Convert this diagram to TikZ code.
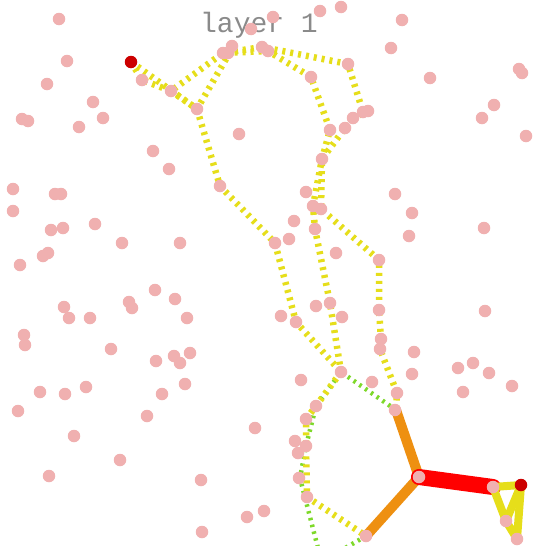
\documentclass[tikz,border=0pt]{standalone}
\usepackage{fontspec}
\newfontfamily\monofont{Liberation Mono}
\definecolor{dotpink}{HTML}{F0B0B0}
\definecolor{dotred}{HTML}{CC0000}
\definecolor{pyellow}{HTML}{E6DE1A}
\definecolor{pgreen}{HTML}{7ED92A}
\definecolor{porange}{HTML}{EE9011}
\definecolor{pred}{HTML}{FF0000}
\definecolor{titlegray}{HTML}{8A8A8A}
\tikzset{
  dot/.style={circle,fill=dotpink,inner sep=0pt,minimum size=12.5pt},
  reddot/.style={circle,fill=dotred,inner sep=0pt,minimum size=12.5pt},
  ydash/.style={draw=pyellow,line width=6.5pt,dash pattern=on 3pt off 5pt,line cap=butt},
  gdash/.style={draw=pgreen,line width=4.5pt,dash pattern=on 2.5pt off 4.5pt,line cap=butt},
  orangeline/.style={draw=porange,line width=10pt,line cap=round},
  redline/.style={draw=pred,line width=16pt,line cap=round},
  yline/.style={draw=pyellow,line width=8pt,line cap=round,line join=round},
  title/.style={text=titlegray,font=\monofont\fontsize{28}{30}\selectfont,inner sep=0pt,anchor=base}
}
\begin{document}
\begin{tikzpicture}[x=1pt,y=-1pt]
\useasboundingbox (0,0) rectangle (537,546);
\fill[white] (0,0) rectangle (537,546);
\node[title] (ttl) at (259,32) {layer 1};
% path coordinates
\coordinate (R1) at (131,62);
\coordinate (A) at (142,80);
\coordinate (B) at (171,91);
\coordinate (C) at (197,109);
\coordinate (D) at (223,53);
\coordinate (E) at (230,52);
\coordinate (F) at (262,47);
\coordinate (G) at (268,51);
\coordinate (H) at (348,64);
\coordinate (I) at (311,77);
\coordinate (J) at (363,112);
\coordinate (K) at (345,128);
\coordinate (L) at (330,130);
\coordinate (M) at (322,159);
\coordinate (N) at (313,206);
\coordinate (O) at (321,209);
\coordinate (P) at (315,229);
\coordinate (Q) at (330,303);
\coordinate (S) at (341,372);
\coordinate (T) at (379,260);
\coordinate (U) at (379,310);
\coordinate (V) at (381,339);
\coordinate (W) at (380,349);
\coordinate (X) at (397,393);
\coordinate (Y) at (396,410);
\coordinate (Z) at (220,186);
\coordinate (AA) at (275,243);
\coordinate (AB) at (296,322);
\coordinate (AC) at (316,406);
\coordinate (AD) at (306,419);
\coordinate (AE) at (306,446);
\coordinate (AF) at (307,497);
\coordinate (AG) at (366,536);
\coordinate (AH) at (419,477);
\coordinate (AI) at (493,487);
\coordinate (R2) at (521,485);
\coordinate (AJ) at (506,521);
\coordinate (AK) at (517,539);
\coordinate (AL) at (300,478);
\coordinate (GB1) at (320,556);
\coordinate (GB2) at (335,554);
\begin{scope}
\clip (0,0) rectangle (537,546);
% green dashed
\draw[gdash] (Y) -- (S) -- (AC) -- (AE) -- (AL) -- (GB1);
\draw[gdash] (AG) -- (GB2);
% yellow dashed
\draw[ydash] (R1) -- (A) -- (B) -- (D) -- (G) -- (I) -- (L) -- (M) -- (N) -- (P) -- (Q) -- (S);
\draw[ydash] (R1) -- (C) -- (E) -- (F) -- (H) -- (J) -- (K) -- (M) -- (O) -- (T) -- (U) -- (V) -- (W) -- (X) -- (Y);
\draw[ydash] (B) -- (C);
\draw[ydash] (C) -- (Z) -- (AA) -- (AB) -- (S);
\draw[ydash] (S) -- (AC) -- (AD) -- (AE) -- (AF) -- (AG);
% solid
\draw[orangeline] (Y) -- (AH) -- (AG);
\draw[redline] (AH) -- (AI);
\draw[yline] (AI) -- (R2) -- (AK) -- (AJ) -- (AI);
\draw[yline] (R2) -- (AJ);
\end{scope}
% dots
\foreach \x/\y [count=\i] in {59/19,273/17,320/11,341/7,402/20,251/29,391/48,67/61,47/84,93/102,103/118,22/119,28/121,79/127,142/80,171/91,197/109,223/53,228/53,232/46,262/47,268/51,348/64,311/77,430/78,519/69,522/73,494/105,482/118,526/136,363/112,368/111,353/118,345/128,330/130,239/134,153/151,169/169,322/159,13/189,55/194,61/194,220/186,306/192,313/206,321/209,395/194,412/213,13/211,294/221,315/229,51/230,63/228,95/224,409/236,484/228,122/243,180/243,275/243,289/239,43/256,48/253,20/265,336/253,379/260,155/290,175/299,129/302,132/308,64/307,69/318,90/318,187/318,281/316,296/322,316/306,330/303,342/317,379/310,485/311,24/335,25/345,111/349,381/339,380/349,414/352,156/361,174/356,180/363,190/353,412/374,458/368,473/363,489/373,341/372,301/380,372/382,40/392,65/394,86/387,162/394,185/384,397/393,463/392,512/386,18/411,395/410,147/416,316/406,306/419,74/436,255/428,295/441,306/446,298/453,120/460,299/478,49/476,201/480,307/497,419/477,493/487,506/521,517/539,247/517,264/511,202/532,366/536}
  \node[dot] (d\i) at (\x,\y) {};
\node[reddot] (start) at (R1) {};
\node[reddot] (goal) at (R2) {};
\end{tikzpicture}
\end{document}
